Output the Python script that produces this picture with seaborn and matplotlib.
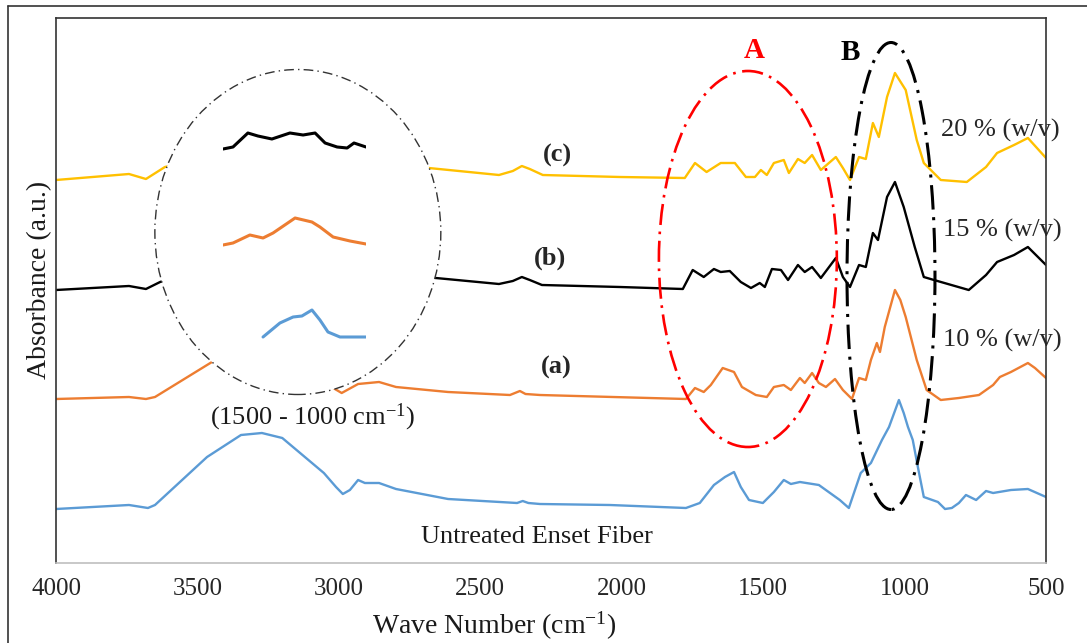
import numpy as np
import pandas as pd
import matplotlib
matplotlib.use("Agg")
import matplotlib.pyplot as plt
from matplotlib.patches import Ellipse
from matplotlib.lines import Line2D
import seaborn as sns

# FTIR spectra (wave number in cm-1, absorbance in a.u. with offsets)
wn_untreated = [4000, 3742, 3675, 3650, 3466, 3346, 3272, 3200, 3053, 3010, 2986, 2961, 2932, 2908,
                2858, 2798, 2614, 2370, 2350, 2330, 2289, 2042, 1773, 1724, 1674, 1635, 1603, 1579,
                1550, 1501, 1462, 1427, 1402, 1370, 1303, 1229, 1197, 1155, 1119, 1080, 1055, 1020,
                1003, 988, 971, 953, 932, 882, 857, 833, 808, 783, 747, 712, 687, 624, 564, 500]
abs_untreated = [54, 58, 55, 58, 106, 128, 130, 125, 90, 76, 69, 73, 83, 80,
                 80, 74, 64, 60, 62, 60, 59, 58, 55, 60, 78, 86, 91, 76,
                 63, 60, 71, 83, 79, 81, 78, 63, 55, 90, 100, 123, 136, 163,
                 150, 136, 123, 96, 66, 61, 54, 55, 60, 68, 63, 72, 70, 73, 74, 66]

wn_10 = [4000, 3742, 3682, 3650, 3466, 3350, 3280, 3200, 3050, 3020, 2990, 2932, 2858, 2798,
         2614, 2395, 2360, 2340, 2289, 1773, 1741, 1710, 1685, 1643, 1603, 1575, 1526, 1487,
         1462, 1427, 1402, 1370, 1353, 1327, 1303, 1278, 1246, 1218, 1186, 1161, 1137, 1119,
         1098, 1087, 1070, 1034, 1015, 996, 957, 922, 872, 808, 737, 687, 663, 624, 564, 539, 500]
abs_10 = [164, 166, 164, 166, 198, 218, 221, 213, 185, 175, 170, 179, 181, 176,
          171, 168, 172, 169, 168, 164, 175, 171, 178, 195, 191, 176, 168, 166,
          176, 178, 173, 185, 180, 190, 180, 176, 184, 173, 164, 185, 183, 203,
          220, 211, 236, 273, 263, 246, 203, 173, 163, 165, 168, 178, 186, 191, 200, 195, 185]

wn_15 = [4000, 3742, 3682, 3632, 3500, 3300, 3100, 2950, 2800, 2657, 2434, 2385, 2353, 2325,
         2282, 2006, 1784, 1749, 1710, 1674, 1650, 1618, 1579, 1543, 1512, 1494, 1469, 1437,
         1412, 1377, 1353, 1327, 1296, 1243, 1218, 1193, 1161, 1137, 1112, 1094, 1062, 1034,
         1003, 964, 932, 896, 773, 712, 673, 613, 564, 500]
abs_15 = [273, 277, 274, 281, 293, 308, 298, 291, 287, 285, 279, 282, 286, 283,
          278, 276, 274, 293, 286, 294, 291, 292, 281, 275, 280, 276, 294, 293,
          283, 298, 291, 296, 285, 305, 286, 276, 298, 296, 330, 323, 366, 381,
          356, 316, 286, 283, 273, 288, 301, 308, 316, 298]

wn_20 = [4000, 3742, 3682, 3615, 3500, 3300, 3100, 2900, 2682, 2434, 2385, 2353, 2325, 2279,
         2006, 1777, 1741, 1700, 1650, 1600, 1561, 1529, 1508, 1487, 1462, 1427, 1409, 1377,
         1353, 1327, 1296, 1243, 1218, 1193, 1161, 1137, 1112, 1091, 1062, 1034, 996, 957,
         932, 872, 780, 712, 673, 613, 564, 500]
abs_20 = [383, 389, 384, 396, 403, 413, 405, 398, 395, 388, 392, 397, 394, 388,
          386, 385, 400, 391, 400, 400, 386, 386, 393, 388, 400, 403, 390, 404,
          400, 408, 393, 406, 395, 383, 406, 404, 440, 426, 466, 490, 473, 423,
          400, 383, 381, 396, 410, 418, 425, 405]

# zoomed 1500 - 1000 cm-1 traces shown inside the circle
wn_zoom_15 = [1500, 1465, 1413, 1378, 1329, 1266, 1220, 1178, 1143, 1101, 1066, 1042, 1021, 1000]
abs_zoom_15 = [414, 416, 430, 427, 424, 430, 428, 430, 420, 416, 415, 420, 418, 416]
wn_zoom_10 = [1500, 1465, 1406, 1360, 1325, 1248, 1189, 1161, 1115, 1056, 1000]
abs_zoom_10 = [318, 320, 328, 325, 330, 345, 341, 336, 326, 322, 319]
wn_zoom_untreated = [1360, 1301, 1255, 1224, 1189, 1161, 1133, 1091, 1000]
abs_zoom_untreated = [226, 240, 246, 247, 253, 243, 231, 226, 226]

xticks = [4000, 3500, 3000, 2500, 2000, 1500, 1000, 500]

BLUE = "#5B9BD5"
ORANGE = "#ED7D31"
BLACK = "#000000"
YELLOW = "#FFC000"

sns.set_style("white")
plt.rcParams["font.family"] = ["Liberation Serif", "DejaVu Serif"]
plt.rcParams["mathtext.fontset"] = "custom"
plt.rcParams["mathtext.rm"] = "Liberation Serif"
plt.rcParams["mathtext.it"] = "Liberation Serif:italic"
plt.rcParams["mathtext.bf"] = "Liberation Serif:bold"

W, H = 1087, 643
fig = plt.figure(figsize=(W / 100, H / 100), dpi=100)

# outer frame (top and left edges only are visible)
fig.add_artist(Line2D([8 / W, 1], [1 - 6 / H, 1 - 6 / H], color="#333333", lw=1.2))
fig.add_artist(Line2D([8 / W, 8 / W], [0, 1 - 6 / H], color="#333333", lw=1.2))

ax = fig.add_axes([56 / W, 1 - 563 / H, 990 / W, 545 / H])

series = [
    (wn_untreated, abs_untreated, BLUE),
    (wn_10, abs_10, ORANGE),
    (wn_15, abs_15, BLACK),
    (wn_20, abs_20, YELLOW),
]
for wn, ab, col in series:
    df = pd.DataFrame({"wn": wn, "abs": ab})
    sns.lineplot(data=df, x="wn", y="abs", color=col, linewidth=1.7,
                 estimator=None, sort=False, ax=ax, zorder=2)

ax.set_xlim(4000, 500)
ax.set_ylim(0, 545)
ax.set_xticks(xticks)
ax.set_xticklabels([str(t) for t in xticks])
ax.set_yticks([])
ax.tick_params(axis="x", length=0, pad=11, labelsize=18, labelcolor="#262626")
for s in ["left", "top", "right"]:
    ax.spines[s].set_color("#333333")
    ax.spines[s].set_linewidth(1.2)
ax.spines["bottom"].set_color("#BFBFBF")
ax.spines["bottom"].set_linewidth(1.2)

ax.set_xlabel("Wave Number (cm$^{\\mathrm{-1}}$)", fontsize=20, color="#1a1a1a")
ax.xaxis.set_label_coords(0.443, -0.085)
ax.set_ylabel("Absorbance (a.u.)", fontsize=20, color="#1a1a1a")
ax.yaxis.set_label_coords(-0.004, 0.519)

# magnifier circle with white fill
ax.add_patch(Ellipse((3145, 331), 1011, 325, facecolor="white", edgecolor="#333333",
                     lw=1.0, linestyle=(0, (7, 3, 1, 3)), zorder=3))
# region A and B
ax.add_patch(Ellipse((1554, 304), 629, 376, facecolor="none", edgecolor="#FF0000",
                     lw=1.9, linestyle=(0, (8, 2.5, 1, 2.5)), zorder=4))
ax.add_patch(Ellipse((1048, 287), 311, 467, facecolor="none", edgecolor="#000000",
                     lw=2.2, linestyle=(0, (8, 2.5, 1, 2.5)), zorder=4))

ax.text(1533, 513, "A", color="#FF0000", fontsize=21, fontweight="bold", ha="center", va="center")
ax.text(1193, 510, "B", color="black", fontsize=21, fontweight="bold", ha="center", va="center")
ax.text(2226, 408, "(c)", fontsize=19, fontweight="bold", ha="center", va="center")
ax.text(2254, 305, "(b)", fontsize=19, fontweight="bold", ha="center", va="center")
ax.text(2233, 196, "(a)", fontsize=19, fontweight="bold", ha="center", va="center")
ax.text(872, 433, "20 % (w/v)", fontsize=19, color="#262626", ha="left", va="center", clip_on=False)
ax.text(865, 333, "15 % (w/v)", fontsize=19, color="#262626", ha="left", va="center", clip_on=False)
ax.text(865, 223, "10 % (w/v)", fontsize=19, color="#262626", ha="left", va="center", clip_on=False)
ax.text(2300, 26, "Untreated Enset Fiber", fontsize=19, color="#1a1a1a", ha="center", va="center")
ax.text(3092, 146, "(1500 - 1000 cm$^{\\mathrm{-1}}$)", fontsize=19, color="#1a1a1a",
        ha="center", va="center", zorder=5)

# inset traces (same vertical scale as main axes)
ax_in = fig.add_axes([223 / W, 1 - 563 / H, 143 / W, 545 / H])
ax_in.set_facecolor("none")
for wn, ab, col in [(wn_zoom_15, abs_zoom_15, BLACK),
                    (wn_zoom_10, abs_zoom_10, ORANGE),
                    (wn_zoom_untreated, abs_zoom_untreated, BLUE)]:
    sns.lineplot(x=wn, y=ab, color=col, linewidth=2.2, estimator=None, sort=False, ax=ax_in)
ax_in.set_xlim(1500, 1000)
ax_in.set_ylim(0, 545)
ax_in.axis("off")

fig.savefig("out.png", dpi=100)
